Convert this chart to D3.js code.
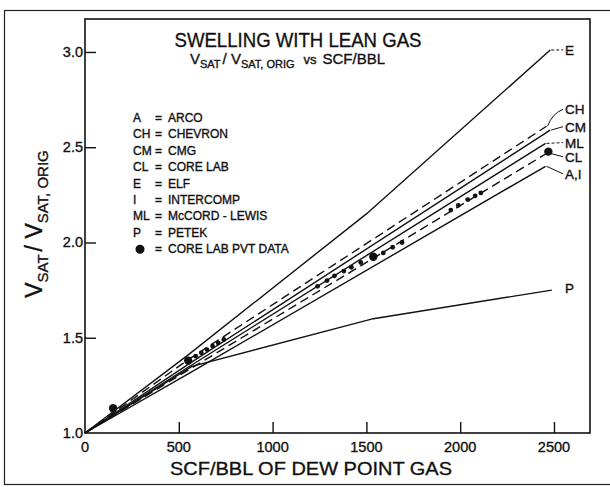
<!DOCTYPE html>
<html><head><meta charset="utf-8">
<script src="https://cdn.jsdelivr.net/npm/d3@7"></script>
<style>
body{margin:0;background:#fff}
svg{display:block}
text{font-family:"Liberation Sans",Arial,Helvetica,sans-serif;fill:#111;stroke:#111;stroke-width:0.35px}
</style>
</head><body>
<svg id="c" width="610" height="487"></svg>
<script>
// ---------- data ----------
const xTicks = [0, 500, 1000, 1500, 2000, 2500];
const xTickLabels = ["0", "500", "1000", "1500", "2000", "2500"];
const yTicks = [1.0, 1.5, 2.0, 2.5, 3.0];
const yTickLabels = ["1.0", "1.5", "2.0", "2.5", "3.0"];

const seriesNames = ["E", "CH", "CM", "ML", "CL", "A,I", "P"];
const seriesDashed = [false, true, false, false, true, false, false];

const scfE  = [0, 550, 1500, 2480];        const valE  = [1.0, 1.41, 2.15, 3.01];
const scfCH = [0, 550, 2460];              const valCH = [1.0, 1.385, 2.61];
const scfCM = [0, 550, 2480];              const valCM = [1.0, 1.36, 2.59];
const scfML = [0, 550, 2455];              const valML = [1.0, 1.345, 2.52];
const scfCL = [0, 550, 2465];              const valCL = [1.0, 1.33, 2.47];
const scfAI = [0, 550, 2455];              const valAI = [1.0, 1.31, 2.40];
const scfP  = [0, 570, 1537, 2488];        const valP  = [1.0, 1.35, 1.60, 1.75];

const pvtMajorScf = [150, 550, 1537, 2470];
const pvtMajorVal = [1.13, 1.38, 1.925, 2.477];
const pvtMinorScf = [590, 620, 650, 680, 710, 740, 1240, 1290, 1330, 1380, 1420, 1470, 1590, 1640, 1690, 1950, 1990, 2040, 2080, 2110];
const pvtMinorVal = [1.403, 1.421, 1.438, 1.456, 1.473, 1.491, 1.77, 1.80, 1.825, 1.85, 1.87, 1.895, 1.945, 1.975, 2.0, 2.17, 2.195, 2.225, 2.245, 2.26];

const labelScf = [2559, 2559, 2559, 2559, 2559, 2559, 2559];
const labelVal = [3.011, 2.699, 2.608, 2.524, 2.450, 2.360, 1.760];

const legendKeys  = ["A", "CH", "CM", "CL", "E", "I", "ML", "P", "●"];
const legendNames = ["ARCO", "CHEVRON", "CMG", "CORE LAB", "ELF", "INTERCOMP", "McCORD - LEWIS", "PETEK", "CORE LAB PVT DATA"];

// ---------- build ----------
const series = [
  [scfE, valE], [scfCH, valCH], [scfCM, valCM], [scfML, valML],
  [scfCL, valCL], [scfAI, valAI], [scfP, valP]
].map((p, i) => ({ name: seriesNames[i], dashed: seriesDashed[i],
  pts: p[0].map((s, j) => ({ x: s, y: p[1][j] })) }));

const svg = d3.select("#c");
const x = d3.scaleLinear().domain([0, 2692]).range([85, 590]);
const y = d3.scaleLinear().domain([1.0, 3.173]).range([433, 19]);

// outer frame
svg.append("rect").attr("x", 4.5).attr("y", 10.5).attr("width", 640).attr("height", 474)
  .attr("fill", "none").attr("stroke", "#222").attr("stroke-width", 1.2);

// plot box
svg.append("rect").attr("x", x(0)).attr("y", y.range()[1])
  .attr("width", x.range()[1] - x(0)).attr("height", y(1) - y.range()[1])
  .attr("fill", "none").attr("stroke", "#111").attr("stroke-width", 1.6);

// x axis (ticks inward)
const xAxis = d3.axisTop(x).tickValues(xTicks.slice(1)).tickSize(11).tickFormat("");
svg.append("g").attr("transform", `translate(0,${y(1)})`).call(xAxis)
  .call(g => { g.select(".domain").remove(); g.selectAll("line").attr("stroke", "#111").attr("stroke-width", 1.4); });
svg.append("g").selectAll("text").data(xTicks).join("text")
  .attr("x", d => x(d)).attr("y", 452).attr("text-anchor", "middle")
  .attr("font-size", 14.5).text((d, i) => xTickLabels[i]);

// y axis (ticks inward)
const yAxis = d3.axisRight(y).tickValues(yTicks.slice(1)).tickSize(11).tickFormat("");
svg.append("g").attr("transform", `translate(${x(0)},0)`).call(yAxis)
  .call(g => { g.select(".domain").remove(); g.selectAll("line").attr("stroke", "#111").attr("stroke-width", 1.4); });
svg.append("g").selectAll("text").data(yTicks).join("text")
  .attr("x", x(0) - 2).attr("y", d => y(d) + 5).attr("text-anchor", "end")
  .attr("font-size", 14.5).text((d, i) => yTickLabels[i]);

// axis titles
svg.append("text").attr("x", 311).attr("y", 475).attr("text-anchor", "middle")
  .attr("font-size", 19).attr("textLength", 282).attr("lengthAdjust", "spacingAndGlyphs")
  .text("SCF/BBL OF DEW POINT GAS");

const yt = svg.append("text").attr("transform", "translate(42,224) rotate(-90)")
  .attr("text-anchor", "middle");
yt.append("tspan").attr("font-size", 23).text("V");
yt.append("tspan").attr("font-size", 15).attr("dy", 6).text("SAT");
yt.append("tspan").attr("font-size", 23).attr("dy", -6).attr("dx", 3).text("/ V");
yt.append("tspan").attr("font-size", 15).attr("dy", 6).text("SAT, ORIG");

// title
svg.append("text").attr("x", 298).attr("y", 47).attr("text-anchor", "middle")
  .attr("font-size", 21).attr("textLength", 247).attr("lengthAdjust", "spacingAndGlyphs")
  .text("SWELLING WITH LEAN GAS");
const st = svg.append("text").attr("x", 190).attr("y", 64);
st.append("tspan").attr("font-size", 15).text("V");
st.append("tspan").attr("font-size", 11).attr("dy", 4).text("SAT");
st.append("tspan").attr("font-size", 15).attr("dy", -4).attr("dx", 2).text("/ V");
st.append("tspan").attr("font-size", 11).attr("dy", 4).text("SAT, ORIG");
st.append("tspan").attr("font-size", 13).attr("dy", -4).attr("dx", 9).text("vs");
st.append("tspan").attr("font-size", 15).attr("dx", 6).text("SCF/BBL");

// lines
const line = d3.line().x(d => x(d.x)).y(d => y(d.y));
svg.append("g").selectAll("path").data(series).join("path")
  .attr("d", d => line(d.pts)).attr("fill", "none").attr("stroke", "#111")
  .attr("stroke-width", 1.4).attr("stroke-dasharray", d => d.dashed ? "9,5" : null);

// PVT points
svg.append("g").selectAll("circle").data(pvtMinorScf).join("circle")
  .attr("cx", d => x(d)).attr("cy", (d, i) => y(pvtMinorVal[i])).attr("r", 2.4).attr("fill", "#111");
svg.append("g").selectAll("circle").data(pvtMajorScf).join("circle")
  .attr("cx", d => x(d)).attr("cy", (d, i) => y(pvtMajorVal[i])).attr("r", 4.2).attr("fill", "#111");

// right labels + leaders
const lab = svg.append("g");
series.forEach((s, i) => {
  const end = s.pts[s.pts.length - 1];
  const ex = x(end.x), ey = y(end.y);
  const lx = x(labelScf[i]), ly = y(labelVal[i]);
  lab.append("text").attr("x", lx).attr("y", ly + 5).attr("font-size", 13.5).text(s.name);
  if (s.name === "P") return;
  const p = d3.path();
  p.moveTo(ex + 1, ey);
  if (s.name === "CH") p.quadraticCurveTo(ex + 6, ly + 4, lx - 2, ly);
  else p.lineTo(lx - 2, ly);
  lab.append("path").attr("d", p.toString()).attr("fill", "none").attr("stroke", "#111")
    .attr("stroke-width", 1).attr("stroke-dasharray", (s.name === "E" || s.name === "ML") ? "3,2" : null);
});

// legend
const lg = svg.append("g").attr("font-size", 12);
legendKeys.forEach((k, i) => {
  const ly = 122 + i * 16.4;
  if (k === "●") lg.append("circle").attr("cx", 140).attr("cy", ly - 4).attr("r", 4.5).attr("fill", "#111");
  else lg.append("text").attr("x", 133).attr("y", ly).text(k);
  lg.append("text").attr("x", 155).attr("y", ly).text("=");
  lg.append("text").attr("x", 168).attr("y", ly).text(legendNames[i]);
});
</script>
</body></html>
